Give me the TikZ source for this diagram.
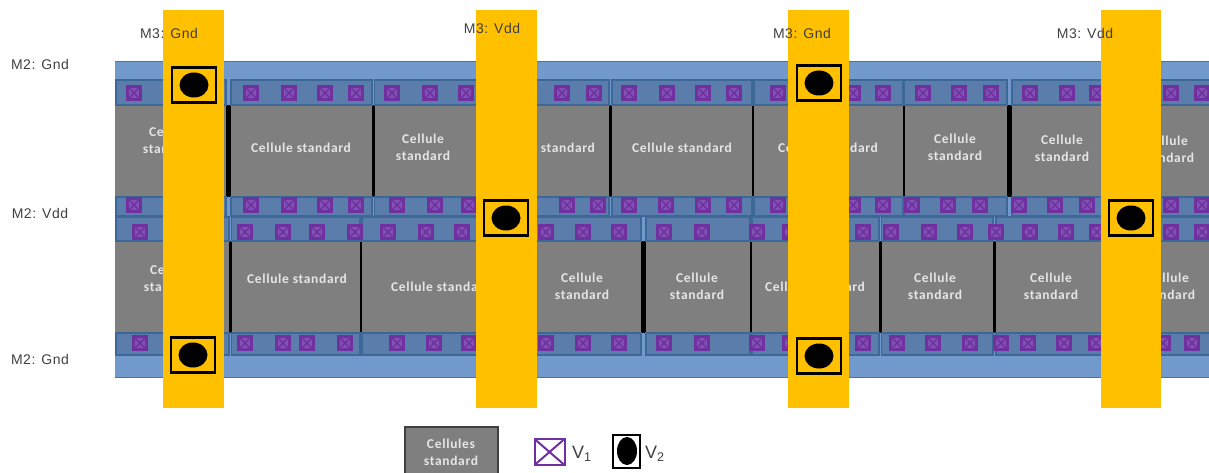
\documentclass[tikz,border=0pt]{standalone}
\usepackage{fontspec}
\usetikzlibrary{shapes.geometric}
\setmainfont{Liberation Sans}
\newfontfamily\cellfont[LetterSpace=5]{Carlito}
\newfontfamily\railfont[LetterSpace=4]{Liberation Sans}
\definecolor{railblue}{HTML}{7299CB}
\definecolor{railedge}{HTML}{4A73A4}
\definecolor{bandblue}{HTML}{5A7DAB}
\definecolor{bandedge}{HTML}{3D6797}
\definecolor{cellgray}{HTML}{7F7F7F}
\definecolor{viapurple}{HTML}{7030A0}
\definecolor{viafill}{HTML}{8052B2}
\definecolor{metalthree}{HTML}{FFC000}
\definecolor{labelgray}{HTML}{404040}
\begin{document}
\begin{tikzpicture}[
x=1pt,y=-1pt,
band/.style={fill=bandblue,draw=bandedge,line width=1.4pt},
sepbar/.style={fill=black},
via/.style={rectangle,draw=viapurple,fill=viafill,line width=2.8pt,minimum width=12.5pt,minimum height=13pt,inner sep=0pt,
path picture={\draw[viapurple,line width=1.5pt] (path picture bounding box.north west)--(path picture bounding box.south east) (path picture bounding box.north east)--(path picture bounding box.south west);}},
celltext/.style={text=white!90!black,align=center,font=\cellfont\bfseries\fontsize{13.5}{17}\selectfont,inner sep=0pt},
pillar/.style={fill=metalthree},
vbox/.style={rectangle,draw=black,line width=2.5pt,minimum width=44pt,minimum height=35pt,inner sep=0pt},
vdot/.style={ellipse,fill=black,minimum width=29pt,minimum height=25pt,inner sep=0pt},
railtext/.style={text=labelgray,font=\railfont\fontsize{14}{16}\selectfont,inner sep=0pt},
legendtext/.style={text=labelgray,anchor=west,font=\fontsize{18}{20}\selectfont,inner sep=0pt}
]
\clip (0,0) rectangle (1209,473);
% rails and cells
\fill[railblue] (115,61) rectangle (1209,378);
\draw[railedge,line width=1pt] (115,61.5)--(1209,61.5) (115,377)--(1209,377);
\fill[cellgray] (115,105) rectangle (1209,197);
\fill[cellgray] (115,241) rectangle (1209,333);
\foreach \a/\b in {226/231,372/374.5,609/612,752/754,903/904.5,1007/1012}
\fill[sepbar] (\a,105) rectangle (\b,197);
\foreach \a/\b in {229/231.5,360/362,641/646,750/752,879/881.5,993/996}
\fill[sepbar] (\a,241) rectangle (\b,333);
% bands
\foreach \a/\b in {116/226,231/372,374.5/609,612/752,754/903,904.5/1007,1012/1210}{
\draw[band] (\a,80) rectangle (\b,105);
\draw[band] (\a,197) rectangle (\b,216);
}
\foreach \a/\b in {116/229,231.5/360,362/641,646/750,752/879,881.5/993,996/1210}{
\draw[band] (\a,217) rectangle (\b,241);
\draw[band] (\a,333) rectangle (\b,355);
}
% vias
\foreach \x in {134,251,289,325,356,392,430,466,562,594,629,667,703,734,778,853,883,923,959,991,1030,1067,1097,1171,1202}
\node[via] (viaA\x) at (\x,93) {};
\foreach \x in {134,251,289,325,356,397,435,469,567,598,629,666,703,734,778,853,883,912,948,980,1019,1055,1087,1171,1202}
\node[via] (viaB\x) at (\x,205) {};
\foreach \x in {140,245,283,317,355,388,426,462,546,583,619,664,702,757,790,863,891,929,965,996,1030,1066,1097,1171,1202}
\node[via] (viaC\x) at (\x,232) {};
\foreach \x in {140,245,283,307,345,397,434,469,546,583,619,664,702,757,790,863,897,933,970,1001,1028,1064,1096,1163,1192}
\node[via] (viaD\x) at (\x,343) {};
% cell labels
\node[celltext] (cellA) at (170,140.5) {Cellule\\standard};
\node[celltext] (cellB) at (301,148) {Cellule standard};
\node[celltext] (cellC) at (423,147.5) {Cellule\\standard};
\node[celltext] (cellD) at (545,148) {Cellule standard};
\node[celltext] (cellE) at (682,148) {Cellule standard};
\node[celltext] (cellF) at (828,148) {Cellule standard};
\node[celltext] (cellG) at (955,147.5) {Cellule\\standard};
\node[celltext] (cellH) at (1062,148.5) {Cellule\\standard};
\node[celltext] (cellI) at (1167,149) {Cellule\\standard};
\node[celltext] (cellJ) at (171,278) {Cellule\\standard};
\node[celltext] (cellK) at (297,279) {Cellule standard};
\node[celltext] (cellL) at (441,287) {Cellule standard};
\node[celltext] (cellM) at (582,286.5) {Cellule\\standard};
\node[celltext] (cellN) at (697,286.5) {Cellule\\standard};
\node[celltext] (cellO) at (815,287) {Cellule standard};
\node[celltext] (cellP) at (935,286.5) {Cellule\\standard};
\node[celltext] (cellQ) at (1051,286.5) {Cellule\\standard};
\node[celltext] (cellR) at (1168,286.5) {Cellule\\standard};
% M3 pillars
\foreach \a/\b in {163/224,476/537,788/849,1101/1161}
\fill[pillar] (\a,10) rectangle (\b,408);
% V2
\foreach \n/\x/\y in {a/194/85,b/193/355,c/506/218,d/819/83,e/819/356,f/1131/218}{
\node[vbox] (box\n) at (\x,\y) {};
\node[vdot] (dot\n) at (\x,\y) {};
}
% names
\node[railtext] (gndA) at (169,33.5) {M3: Gnd};
\node[railtext] (vddA) at (492,28.5) {M3: Vdd};
\node[railtext] (gndB) at (802,33.5) {M3: Gnd};
\node[railtext] (vddB) at (1085,33.5) {M3: Vdd};
\node[railtext] (railA) at (40,64) {M2: Gnd};
\node[railtext] (railB) at (40,213) {M2: Vdd};
\node[railtext] (railC) at (40,359) {M2: Gnd};
% legend
\node[rectangle,draw=labelgray,fill=cellgray,line width=2pt,minimum width=93pt,minimum height=50pt,inner sep=0pt] (legcell) at (451,452) {};
\node[celltext] (legtext) at (451,452.5) {Cellules\\standard};
\node[rectangle,draw=viapurple,fill=white,line width=2pt,minimum width=30pt,minimum height=26pt,inner sep=0pt,
path picture={\draw[viapurple,line width=2pt] (path picture bounding box.north west)--(path picture bounding box.south east) (path picture bounding box.north east)--(path picture bounding box.south west);}] (legvia) at (549.5,452) {};
\node[legendtext] (legone) at (572,454) {V\textsubscript{1}};
\node[rectangle,draw=black,fill=white,line width=2pt,minimum width=27pt,minimum height=33pt,inner sep=0pt] (legbox) at (626,451) {};
\node[ellipse,fill=black,minimum width=20pt,minimum height=28pt,inner sep=0pt] (legdot) at (627,451) {};
\node[legendtext] (legtwo) at (645,454) {V\textsubscript{2}};
\end{tikzpicture}
\end{document}
